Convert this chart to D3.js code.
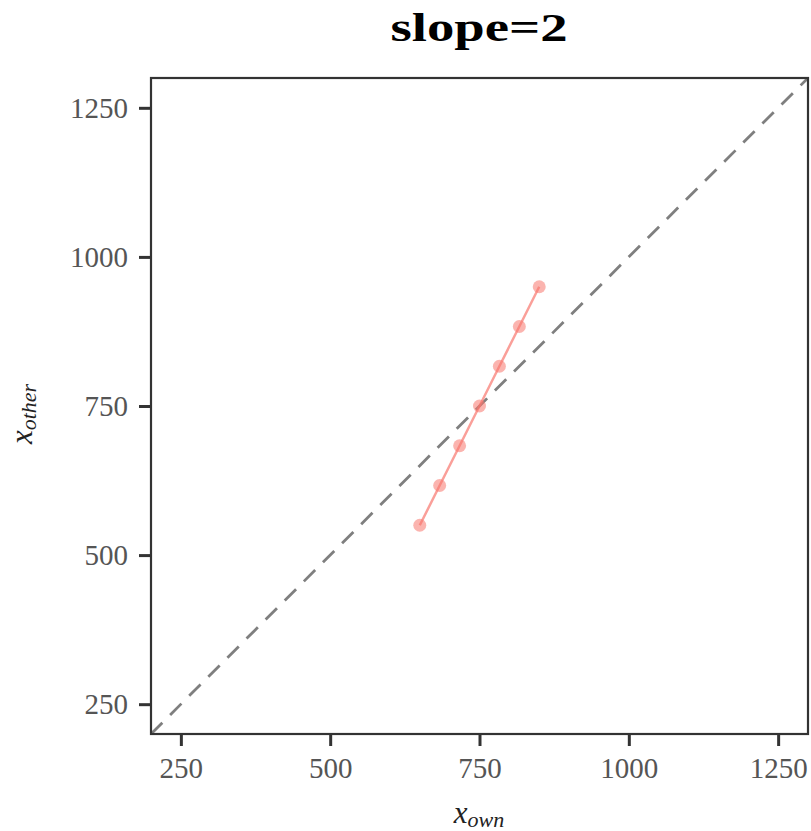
<!DOCTYPE html>
<html>
<head>
<meta charset="utf-8">
<script src="https://cdn.jsdelivr.net/npm/d3@7"></script>
<style>
  body { margin: 0; background: #fff; }
  text { font-family: 'Liberation Serif', 'DejaVu Serif', serif; }
</style>
</head>
<body>
<div id="chart"></div>
<script>
const xOwn = [650, 683.3, 716.7, 750, 783.3, 816.7, 850]
const xOther = [550, 616.7, 683.3, 750, 816.7, 883.3, 950]
const ticks = [250, 500, 750, 1000, 1250]
const domain = [200, 1300]

const width = 811
const height = 831
const margin = { top: 78, right: 3, bottom: 97, left: 151 }

const svg = d3.select('#chart')
  .append('svg')
  .attr('width', width)
  .attr('height', height)

const x = d3.scaleLinear().domain(domain).range([margin.left, width - margin.right])
const y = d3.scaleLinear().domain(domain).range([height - margin.bottom, margin.top])

// clip for panel
svg.append('clipPath').attr('id', 'clip')
  .append('rect')
  .attr('x', margin.left).attr('y', margin.top)
  .attr('width', width - margin.left - margin.right)
  .attr('height', height - margin.top - margin.bottom)

const panel = svg.append('g').attr('clip-path', 'url(#clip)')

// identity line
panel.append('line')
  .attr('x1', x(domain[0])).attr('y1', y(domain[0]))
  .attr('x2', x(domain[1])).attr('y2', y(domain[1]))
  .attr('stroke', '#7f7f7f')
  .attr('stroke-width', 2.8)
  .attr('stroke-dasharray', '16,11')

const pts = xOwn.map((d, i) => ({ x: d, y: xOther[i] }))

panel.append('path')
  .datum(pts)
  .attr('fill', 'none')
  .attr('stroke', '#f8766d')
  .attr('stroke-opacity', 0.7)
  .attr('stroke-width', 2.5)
  .attr('d', d3.line().x(d => x(d.x)).y(d => y(d.y)))

panel.selectAll('.pt')
  .data(pts)
  .enter()
  .append('circle')
  .attr('class', 'pt')
  .attr('cx', d => x(d.x))
  .attr('cy', d => y(d.y))
  .attr('r', 6.5)
  .attr('fill', '#f8766d')
  .attr('fill-opacity', 0.55)

// axes
const xAxis = svg.append('g')
  .attr('transform', `translate(0,${height - margin.bottom})`)
  .call(d3.axisBottom(x).tickValues(ticks).tickSize(12).tickPadding(11).tickFormat(d3.format('d')))
const yAxis = svg.append('g')
  .attr('transform', `translate(${margin.left},0)`)
  .call(d3.axisLeft(y).tickValues(ticks).tickSize(12).tickPadding(11).tickFormat(d3.format('d')))

;[xAxis, yAxis].forEach(g => {
  g.select('.domain').remove()
  g.selectAll('.tick line').attr('stroke', '#333').attr('stroke-width', 3)
  g.selectAll('.tick text')
    .attr('fill', '#555')
    .style('font-size', '29px')
    .style('font-family', "'Liberation Serif', serif")
})

// panel border
svg.append('rect')
  .attr('x', margin.left).attr('y', margin.top)
  .attr('width', width - margin.left - margin.right)
  .attr('height', height - margin.top - margin.bottom)
  .attr('fill', 'none')
  .attr('stroke', '#333')
  .attr('stroke-width', 2.2)

// title
svg.append('text')
  .attr('x', 479)
  .attr('y', 41)
  .attr('text-anchor', 'middle')
  .attr('textLength', 177)
  .attr('lengthAdjust', 'spacingAndGlyphs')
  .style('font-size', '40px')
  .style('font-weight', 'bold')
  .text('slope=2')

// axis labels
const xl = svg.append('text')
  .attr('x', 479)
  .attr('y', 823)
  .attr('text-anchor', 'middle')
  .style('font-size', '31px')
  .style('font-style', 'italic')
  .attr('fill', '#222')
xl.append('tspan').text('x')
xl.append('tspan').attr('dy', 4).style('font-size', '22px').text('own')

const yl = svg.append('text')
  .attr('transform', `translate(32,414) rotate(-90)`)
  .attr('text-anchor', 'middle')
  .style('font-size', '31px')
  .style('font-style', 'italic')
  .attr('fill', '#222')
yl.append('tspan').text('x')
yl.append('tspan').attr('dy', 4).style('font-size', '22px').text('other')
</script>
</body>
</html>
